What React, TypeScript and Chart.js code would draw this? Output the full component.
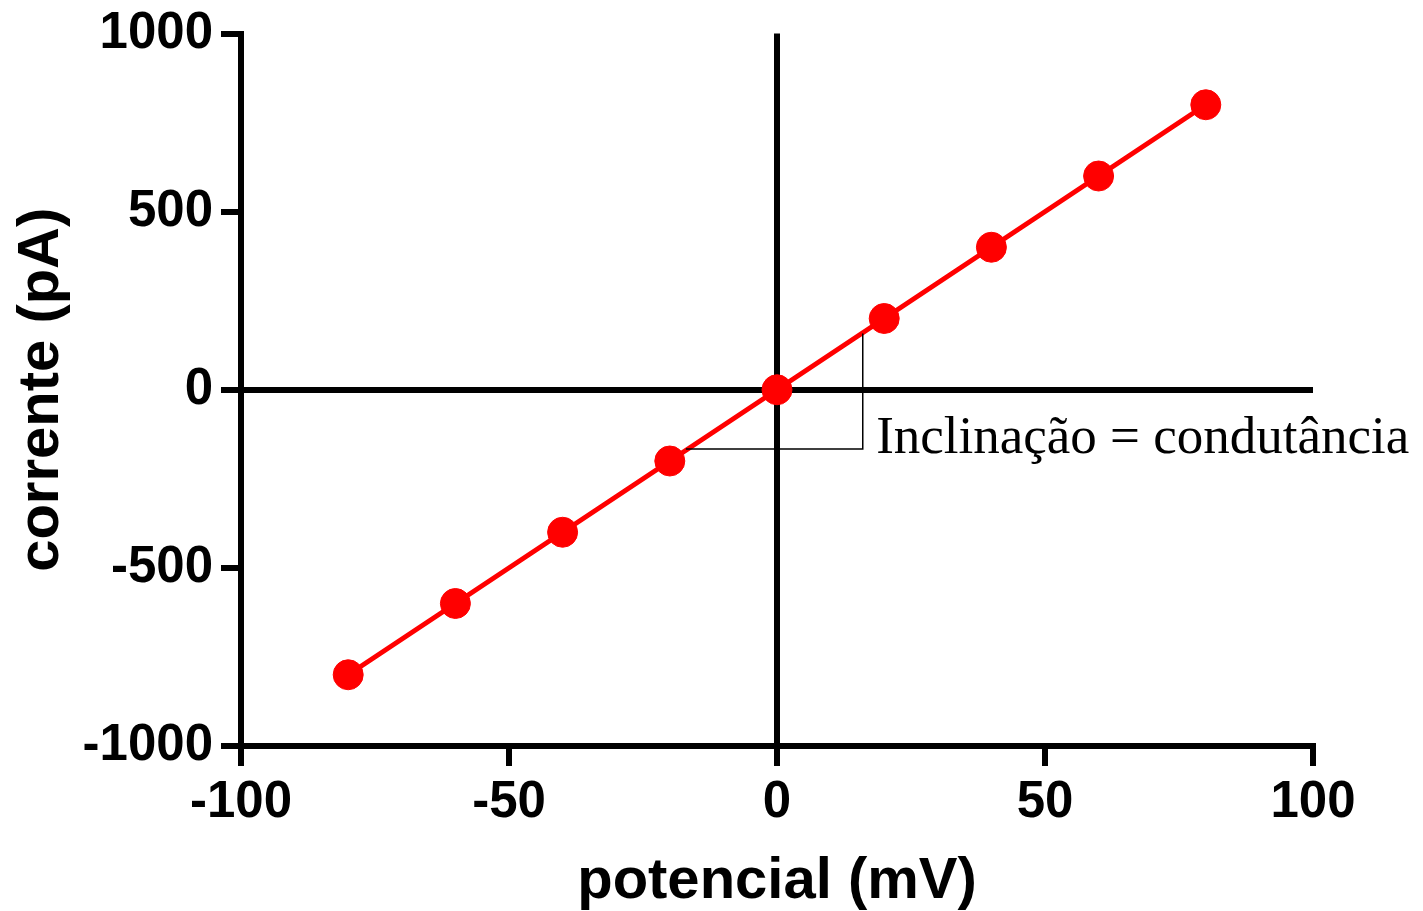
import React, { useEffect, useRef } from "react";
import { Chart, registerables } from "chart.js";

Chart.register(...registerables);

const potencial = [-80, -60, -40, -20, 0, 20, 40, 60, 80];
const corrente = [-800, -600, -400, -200, 0, 200, 400, 600, 800];

const xTitle = "potencial (mV)";
const yTitle = "corrente (pA)";
const annotationText = "Inclinação = condutância";
// slope triangle corners in data units
const slopeX = [-17, 16];
const slopeY = [-166, 158];
const textAnchor = [18.5, -178];

const W = 1423;
const H = 911;

const annotationPlugin = {
  id: "slopeAnnotation",
  afterDatasetsDraw(chart: any) {
    const { ctx, scales } = chart;
    const xs = scales.x;
    const ys = scales.y;
    ctx.save();
    ctx.strokeStyle = "#000";
    ctx.lineWidth = 1.5;
    ctx.beginPath();
    ctx.moveTo(xs.getPixelForValue(slopeX[0]), ys.getPixelForValue(slopeY[0]));
    ctx.lineTo(xs.getPixelForValue(slopeX[1]), ys.getPixelForValue(slopeY[0]));
    ctx.lineTo(xs.getPixelForValue(slopeX[1]), ys.getPixelForValue(slopeY[1]));
    ctx.stroke();
    ctx.fillStyle = "#000";
    ctx.font = '53px "Liberation Serif", "Times New Roman", serif';
    ctx.textAlign = "left";
    ctx.textBaseline = "alphabetic";
    ctx.fillText(
      annotationText,
      xs.getPixelForValue(textAnchor[0]),
      ys.getPixelForValue(textAnchor[1])
    );
    ctx.restore();
  },
};

export default function App() {
  const ref = useRef<HTMLCanvasElement | null>(null);

  useEffect(() => {
    if (!ref.current) return;
    const family = '"Liberation Sans", Arial, sans-serif';
    const xTickFont = { family, size: 51, weight: "bold" as const };
    const yTickFont = { family, size: 51, weight: "bold" as const, lineHeight: 1 };
    const titleFont = { family, size: 58, weight: "bold" as const, lineHeight: 1 };
    const gridColor = (c: any) => (c.tick && c.tick.value === 0 ? "#000" : "rgba(0,0,0,0)");
    const plain = (v: any) => String(v);
    const chart = new Chart(ref.current, {
      type: "scatter",
      data: {
        datasets: [
          {
            data: potencial.map((x, i) => ({ x, y: corrente[i] })),
            showLine: true,
            borderColor: "#ff0000",
            backgroundColor: "#ff0000",
            borderWidth: 5,
            pointRadius: 15,
            pointBorderWidth: 1,
            pointBackgroundColor: "#ff0000",
            pointBorderColor: "#ff0000",
          },
        ],
      },
      options: {
        responsive: false,
        animation: false,
        devicePixelRatio: 1,
        layout: { padding: { top: 31, right: 110, left: 0, bottom: 0 } },
        plugins: { legend: { display: false }, tooltip: { enabled: false } },
        scales: {
          x: {
            type: "linear",
            min: -100,
            max: 100,
            ticks: { stepSize: 50, color: "#000", font: xTickFont, padding: 6, maxRotation: 0, callback: plain },
            grid: {
              drawOnChartArea: true,
              color: gridColor,
              lineWidth: 6,
              tickLength: 20,
              tickColor: "#000",
              tickWidth: 6,
            },
            border: { display: true, color: "#000", width: 6 },
            title: { display: true, text: xTitle, color: "#000", font: titleFont, padding: { top: 0, bottom: 0 } },
            afterFit: (s: any) => {
              s.height = H - 746;
            },
          },
          y: {
            type: "linear",
            min: -1000,
            max: 1000,
            ticks: { stepSize: 500, color: "#000", font: yTickFont, padding: 8, callback: plain },
            grid: {
              drawOnChartArea: true,
              color: gridColor,
              lineWidth: 6,
              tickLength: 20,
              tickColor: "#000",
              tickWidth: 6,
            },
            border: { display: true, color: "#000", width: 6 },
            title: { display: true, text: yTitle, color: "#000", font: titleFont, padding: { top: 13, bottom: 0 } },
            afterFit: (s: any) => {
              s.width = 241;
            },
          },
        },
      },
      plugins: [annotationPlugin],
    });
    return () => chart.destroy();
  }, []);

  return (
    <div style={{ position: "fixed", left: 0, top: 0, width: W, height: H, background: "#fff" }}>
      <canvas ref={ref} width={W} height={H} style={{ display: "block", width: W, height: H }} />
    </div>
  );
}
